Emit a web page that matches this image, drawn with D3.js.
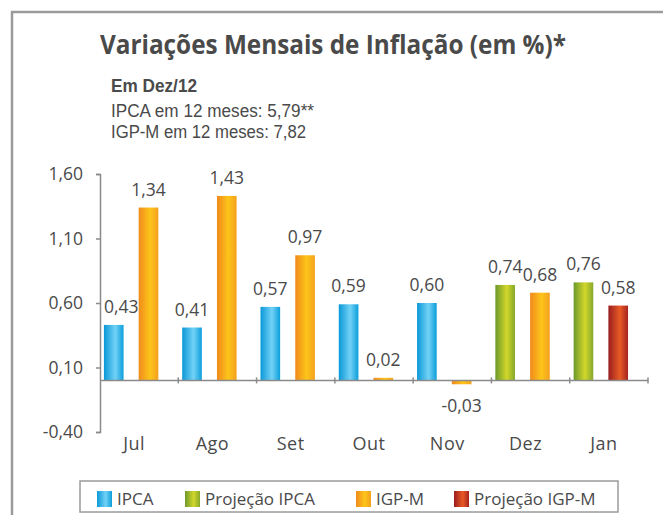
<!DOCTYPE html>
<html>
<head>
<meta charset="utf-8">
<script src="https://cdn.jsdelivr.net/npm/d3@7"></script>
<style>
  body { margin: 0; background: #fff; }
  text { font-family: "Open Sans", sans-serif; fill: #4a4a4a; }
</style>
</head>
<body>
<div id="chart"></div>
<script>
"use strict"

// Monthly inflation bars, IPCA vs IGP-M

var categories = ["Jul", "Ago", "Set", "Out", "Nov", "Dez", "Jan"]
var seriesNames = ["IPCA", "Projeção IPCA", "IGP-M", "Projeção IGP-M"]
var ipca =     [0.43, 0.41, 0.57, 0.59, 0.60, null, null]
var projIpca = [null, null, null, null, null, 0.74, 0.76]
var igpm =     [1.34, 1.43, 0.97, 0.02, -0.03, 0.68, null]
var projIgpm = [null, null, null, null, null, null, 0.58]
var yTicks = [-0.40, 0.10, 0.60, 1.10, 1.60]

var titleText = "Variações Mensais de Inflação (em %)*"
var subHead = "Em Dez/12"
var subLines = ["IPCA em 12 meses: 5,79**", "IGP-M em 12 meses: 7,82"]

var width = 663
var height = 515

var colors = {
  "IPCA": ["#0a98d8", "#72d2f6", "#0c9edb"],
  "Projeção IPCA": ["#6c992c", "#d2d72a", "#86a82c"],
  "IGP-M": ["#f08a1c", "#fdc51a", "#f4a01e"],
  "Projeção IGP-M": ["#9a1c1f", "#e85b25", "#a6251f"]
}

var values = [ipca, projIpca, igpm, projIgpm]
var slotOf = { "IPCA": "a", "Projeção IPCA": "a", "IGP-M": "b", "Projeção IGP-M": "b" }

var bars = []
seriesNames.forEach(function(name, i) {
  values[i].forEach(function(v, j) {
    if (v === null) return
    bars.push({ series: name, month: categories[j], value: v })
  })
})

var locale = d3.formatLocale({ decimal: ",", thousands: ".", grouping: [3], currency: ["R$", ""], minus: "-" })
var fmt = locale.format(".2f")

var svg = d3.select("#chart").append("svg")
  .attr("width", width)
  .attr("height", height)

// outer frame
svg.append("rect")
  .attr("x", 12).attr("y", 12)
  .attr("width", 700).attr("height", 600)
  .attr("fill", "none")
  .attr("stroke", "#9b9b9b")
  .attr("stroke-width", 2.5)

var defs = svg.append("defs")
seriesNames.forEach(function(name, i) {
  var g = defs.append("linearGradient")
    .attr("id", "grad" + i)
    .attr("x1", 0).attr("x2", 1).attr("y1", 0).attr("y2", 0)
  g.append("stop").attr("offset", "0%").attr("stop-color", colors[name][0])
  g.append("stop").attr("offset", "58%").attr("stop-color", colors[name][1])
  g.append("stop").attr("offset", "100%").attr("stop-color", colors[name][2])
})
function gradUrl(name) { return "url(#grad" + seriesNames.indexOf(name) + ")" }

// titles
svg.append("text")
  .attr("x", 100).attr("y", 54)
  .attr("textLength", 466)
  .attr("lengthAdjust", "spacingAndGlyphs")
  .style("font-size", "27px")
  .style("font-weight", "bold")
  .text(titleText)

// narrower line box so the stacked lines don't collide
svg.append("text")
  .attr("x", 111).attr("y", 92)
  .attr("textLength", 86)
  .attr("lengthAdjust", "spacingAndGlyphs")
  .style("font-family", "'Liberation Sans', sans-serif")
  .style("font-size", "18.5px")
  .style("font-weight", "bold")
  .text(subHead)

svg.selectAll("text.sub")
  .data(subLines)
  .enter().append("text")
  .attr("class", "sub")
  .attr("x", 111)
  .attr("y", function(d, i) { return 117 + i * 21 })
  .attr("textLength", function(d, i) { return i === 0 ? 203 : 195 })
  .attr("lengthAdjust", "spacingAndGlyphs")
  .style("font-family", "'Liberation Sans', sans-serif")
  .style("font-size", "18px")
  .text(function(d) { return d })

// scales
var x = d3.scaleBand()
  .domain(categories)
  .range([100, 648])
  .padding(0)

var slot = d3.scaleBand()
  .domain(["a", "b"])
  .range([x.bandwidth() * 0.05, x.bandwidth() * 0.745])
  .paddingInner(0.435)
  .paddingOuter(0)

var y = d3.scaleLinear()
  .domain([-0.40, 1.60])
  .range([432, 174])

// y axis
var yAxis = svg.append("g")
  .attr("transform", "translate(100,0)")
  .call(d3.axisLeft(y).tickValues(yTicks).tickSize(4).tickPadding(13).tickFormat(fmt))
yAxis.select(".domain").attr("stroke", "#8a8a8a").attr("stroke-width", 1.5)
yAxis.selectAll(".tick line").attr("stroke", "#8a8a8a").attr("stroke-width", 1.5)
yAxis.selectAll(".tick text")
  .attr("fill", "#4a4a4a")
  .style("font-family", "'Open Sans', sans-serif")
  .style("font-size", "17.5px")

// bars
svg.selectAll("rect.bar")
  .data(bars)
  .enter().append("rect")
  .attr("class", "bar")
  .attr("x", function(d) { return x(d.month) + slot(slotOf[d.series]) })
  .attr("width", slot.bandwidth())
  .attr("y", function(d) { return y(Math.max(0, d.value)) })
  .attr("height", function(d) { return Math.abs(y(d.value) - y(0)) })
  .attr("fill", function(d) { return gradUrl(d.series) })

// x axis line at zero with category boundary ticks
svg.append("line")
  .attr("x1", 100).attr("x2", 648)
  .attr("y1", y(0)).attr("y2", y(0))
  .attr("stroke", "#8a8a8a")
  .attr("stroke-width", 1.5)

svg.selectAll("line.sep")
  .data(categories)
  .enter().append("line")
  .attr("class", "sep")
  .attr("x1", function(d) { return x(d) + x.bandwidth() })
  .attr("x2", function(d) { return x(d) + x.bandwidth() })
  .attr("y1", y(0) - 3).attr("y2", y(0) + 3)
  .attr("stroke", "#8a8a8a")
  .attr("stroke-width", 1.5)

svg.selectAll("text.cat")
  .data(categories)
  .enter().append("text")
  .attr("class", "cat")
  .attr("x", function(d) { return x(d) + x.bandwidth() / 2 - 5 })
  .attr("y", 450)
  .attr("text-anchor", "middle")
  .style("font-size", "18px")
  .style("letter-spacing", "0.5px")
  .text(function(d) { return d })

// value labels
var labels = svg.selectAll("text.val")
  .data(bars)
  .enter().append("text")
  .attr("class", "val")
  .attr("text-anchor", "middle")
  .style("font-size", "17.5px")
  .attr("y", function(d) { return d.value >= 0 ? y(d.value) - 12 : y(d.value) + 28 })
  .text(function(d) { return fmt(d.value) })

// keep labels clear of the y axis
labels.attr("x", function(d) {
  var cx = x(d.month) + slot(slotOf[d.series]) + slot.bandwidth() / 2
  var half = this.getComputedTextLength() / 2
  return Math.max(cx, 104 + half)
})

// legend
var legend = svg.append("g")
legend.append("rect")
  .attr("x", 80).attr("y", 481)
  .attr("width", 538).attr("height", 31)
  .attr("fill", "#fff")
  .attr("stroke", "#9b9b9b")
  .attr("stroke-width", 1.5)

var legendX = [97, 185, 356, 454]
var item = legend.selectAll("g.item")
  .data(seriesNames)
  .enter().append("g")
  .attr("class", "item")
  .attr("transform", function(d, i) { return "translate(" + legendX[i] + ",0)" })
item.append("rect")
  .attr("y", 491)
  .attr("width", 15).attr("height", 16)
  .attr("fill", function(d) { return gradUrl(d) })
item.append("text")
  .attr("x", 20).attr("y", 505)
  .style("font-size", "17px")
  .text(function(d) { return d })
</script>
</body>
</html>
